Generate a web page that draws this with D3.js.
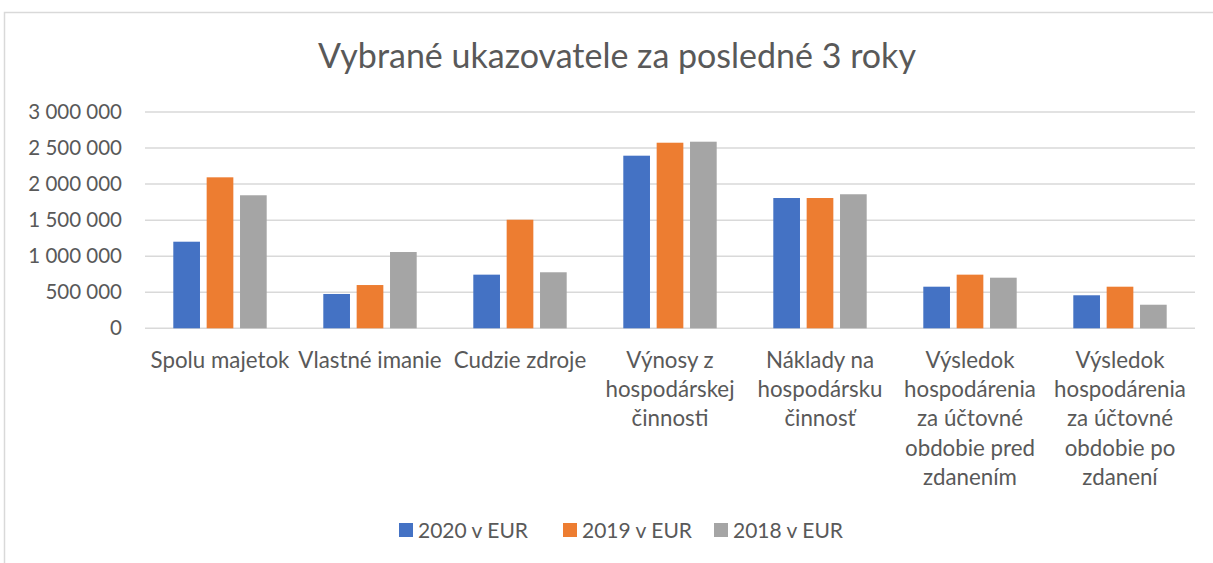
<!DOCTYPE html>
<html>
<head>
<meta charset="utf-8">
<script src="https://cdn.jsdelivr.net/npm/d3@7/dist/d3.min.js"></script>
<style>
  html, body { margin: 0; padding: 0; background: #fff; }
  svg { display: block; }
  text { font-family: Lato, "Open Sans", sans-serif; fill: #595959; }
</style>
</head>
<body>
<svg id="chart" width="1213" height="563"></svg>
<script>
const title = "Vybrané ukazovatele za posledné 3 roky";
const categories = [
  "Spolu majetok",
  "Vlastné imanie",
  "Cudzie zdroje",
  "Výnosy z\nhospodárskej\nčinnosti",
  "Náklady na\nhospodársku\nčinnosť",
  "Výsledok\nhospodárenia\nza účtovné\nobdobie pred\nzdanením",
  "Výsledok\nhospodárenia\nza účtovné\nobdobie po\nzdanení"
];
const seriesNames = ["2020 v EUR", "2019 v EUR", "2018 v EUR"];
const values2020 = [1201000, 476000, 744000, 2394000, 1807000, 577000, 458000];
const values2019 = [2094000, 600000, 1506000, 2574000, 1807000, 744000, 577000];
const values2018 = [1845000, 1058000, 777000, 2588000, 1859000, 702000, 327000];
const seriesValues = [values2020, values2019, values2018];
const colors = ["#4472C4", "#ED7D31", "#A5A5A5"];
const yTicks = [0, 500000, 1000000, 1500000, 2000000, 2500000, 3000000];

const svg = d3.select("#chart");

// outer chart frame
svg.append("rect")
  .attr("x", 4.5).attr("y", 12.5)
  .attr("width", 1300).attr("height", 700)
  .attr("fill", "none").attr("stroke", "#d9d9d9").attr("stroke-width", 1.5);

const plot = { left: 145, right: 1195, top: 112, bottom: 328.3 };

const x0 = d3.scaleBand().domain(categories).range([plot.left, plot.right]).padding(0);
const inner = 93.4 / 150;
const x1 = d3.scaleBand().domain(seriesNames)
  .range([x0.bandwidth() * (1 - inner) / 2, x0.bandwidth() * (1 + inner) / 2])
  .paddingInner(0.2).paddingOuter(0);
const y = d3.scaleLinear().domain([0, 3000000]).range([plot.bottom, plot.top]);

// gridlines
svg.append("g").selectAll("line").data(yTicks).join("line")
  .attr("x1", plot.left).attr("x2", plot.right)
  .attr("y1", d => y(d)).attr("y2", d => y(d))
  .attr("stroke", "#d9d9d9").attr("stroke-width", 1.5);

// y axis labels
const yAxis = d3.axisLeft(y).tickValues(yTicks).tickSize(0).tickPadding(0)
  .tickFormat(d => d3.format(",")(d).replace(/,/g, " "));
const yg = svg.append("g").attr("transform", `translate(122,0)`).call(yAxis);
yg.select(".domain").remove();
yg.selectAll("text").attr("font-size", 20.5).attr("fill", "#595959")
  .attr("font-family", "Lato, sans-serif");

// bars
const groups = svg.append("g").selectAll("g").data(categories).join("g")
  .attr("transform", d => `translate(${x0(d)},0)`);
groups.selectAll("rect")
  .data((c, i) => seriesNames.map((s, j) => ({ s, v: seriesValues[j][i], j })))
  .join("rect")
  .attr("x", d => x1(d.s))
  .attr("width", x1.bandwidth())
  .attr("y", d => y(d.v))
  .attr("height", d => y(0) - y(d.v))
  .attr("fill", d => colors[d.j]);

// x category labels
const xl = svg.append("g");
categories.forEach(c => {
  const lines = c.split("\n");
  const cx = x0(c) + x0.bandwidth() / 2;
  const t = xl.append("text")
    .attr("text-anchor", "middle")
    .attr("font-size", 22.3)
    .attr("x", cx)
    .attr("y", 368);
  lines.forEach((ln, i) => {
    t.append("tspan").attr("x", cx).attr("y", 368 + i * 29.2).text(ln);
  });
});

// title
svg.append("text").attr("x", 617).attr("y", 68)
  .attr("text-anchor", "middle").attr("font-size", 34).text(title);

// legend
const legendX = [399, 563, 714];
const lg = svg.append("g").selectAll("g").data(seriesNames).join("g")
  .attr("transform", (d, i) => `translate(${legendX[i]},523)`);
lg.append("rect").attr("width", 14).attr("height", 14)
  .attr("fill", (d, i) => colors[i]);
lg.append("text").attr("x", 19).attr("y", 7).attr("dy", "0.36em")
  .attr("font-size", 21).text(d => d);
</script>
</body>
</html>
